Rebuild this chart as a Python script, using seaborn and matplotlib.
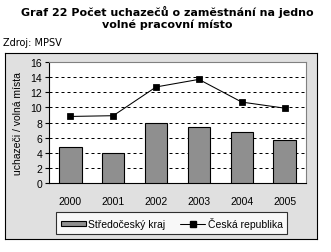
import matplotlib
matplotlib.use("Agg")
import matplotlib.pyplot as plt
from matplotlib.patches import Patch
from matplotlib.lines import Line2D
import seaborn as sns
import pandas as pd

years = ["2000", "2001", "2002", "2003", "2004", "2005"]
stredocesky = [4.7, 4.0, 7.9, 7.4, 6.7, 5.7]
cr = [8.8, 8.9, 12.7, 13.7, 10.7, 9.9]
yticks = [0, 2, 4, 6, 8, 10, 12, 14, 16]

title = "Graf 22 Počet uchazečů o zaměstnání na jedno\nvolné pracovní místo"
source = "Zdroj: MPSV"
ylabel = "uchazeči / volná místa"
lab_bar = "Středočeský kraj"
lab_line = "Česká republika"

sns.set_theme(style="white")
plt.rcParams['font.family'] = ['Liberation Sans', 'DejaVu Sans']
plt.rcParams['text.color'] = 'black'
plt.rcParams['axes.labelcolor'] = 'black'
plt.rcParams['xtick.color'] = 'black'
plt.rcParams['ytick.color'] = 'black'

W, H = 331, 253
fig = plt.figure(figsize=(W / 100, H / 100), dpi=100)
fig.patch.set_facecolor("white")

# chart area frame with grey pattern-like fill
bg = fig.add_axes([5 / W, 1 - 240 / H, (317 - 5) / W, (240 - 54) / H], zorder=-5)
bg.set_facecolor("#e0e0e0")
bg.set_xticks([])
bg.set_yticks([])
for s in bg.spines.values():
    s.set_color("black")
    s.set_linewidth(0.8)

ax = fig.add_axes([49 / W, 1 - 184 / H, (306 - 49) / W, (184 - 63) / H], zorder=1)
ax.set_facecolor("white")

df = pd.DataFrame({"rok": years, "kraj": stredocesky, "cr": cr})
sns.barplot(data=df, x="rok", y="kraj", ax=ax, color="#8f8f8f", saturation=1,
            width=0.52, edgecolor="black", linewidth=0.8, zorder=3)
sns.pointplot(data=df, x="rok", y="cr", ax=ax, color="black", markers="s",
              markersize=4, linewidth=0.75, zorder=4)

ax.set_ylim(0, 16)
ax.set_xlim(-0.5, 5.5)
ax.set_yticks(yticks)
ax.set_yticklabels([str(t) for t in yticks])
for t in yticks[1:-1]:
    ax.axhline(t, color="black", linewidth=0.72, linestyle=(0, (3, 3)), zorder=1)

for s in ["left", "bottom"]:
    ax.spines[s].set_color("black")
    ax.spines[s].set_linewidth(0.8)
for s in ["top", "right"]:
    ax.spines[s].set_color("#808080")
    ax.spines[s].set_linewidth(0.8)

ax.tick_params(axis="y", which="both", left=True, length=3, width=0.8,
               color="black", labelcolor="black", labelsize=7.5, pad=2)
ax.tick_params(axis="x", bottom=False, labelcolor="black", labelsize=7.5, pad=3.5)
ax.set_xlabel("")
ax.set_ylabel(ylabel, fontsize=7.5, color="black")
ax.yaxis.set_label_coords(-0.10, 0.5)

fig.text(0.505, 1 - 6 / H, title, ha="center", va="top", fontsize=8.0,
         fontweight="bold", linespacing=1.2, family=["DejaVu Sans"], color="black")
fig.text(3 / W, 1 - 43 / H, source, ha="left", va="center", fontsize=7,
         family=["DejaVu Sans"], color="black")

handles = [Patch(facecolor="#8f8f8f", edgecolor="black", linewidth=0.8),
           Line2D([], [], color="black", marker="s", markersize=4, linewidth=0.75)]
leg = fig.legend(handles, [lab_bar, lab_line], loc="center",
                 bbox_to_anchor=(171.5 / W, 1 - 224 / H), ncol=2, fontsize=7.5,
                 frameon=True, fancybox=False, edgecolor="black",
                 handlelength=2.4, handleheight=0.35, handletextpad=0.2,
                 columnspacing=1.5, borderpad=0.45)
leg.get_frame().set_linewidth(0.8)
leg.get_frame().set_facecolor("white")
for t in leg.get_texts():
    t.set_color("black")

fig.savefig("out.png", dpi=100)
